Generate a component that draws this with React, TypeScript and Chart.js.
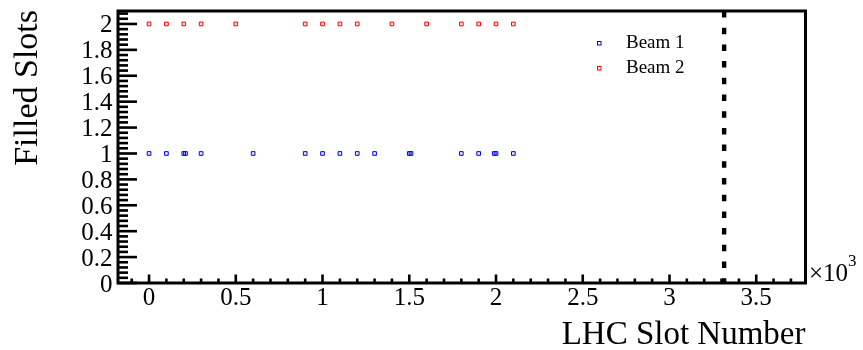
import { useEffect, useRef } from "react";
import { Chart, registerables } from "chart.js";

Chart.register(...registerables);

// Filled bunch slots per beam (slot number, filled flag level)
const beam1Slots = [0, 100, 200, 210, 300, 600, 900, 1000, 1100, 1200, 1300, 1500, 1510, 1800, 1900, 1990, 2000, 2100];
const beam1Filled = [1, 1, 1, 1, 1, 1, 1, 1, 1, 1, 1, 1, 1, 1, 1, 1, 1, 1];
const beam2Slots = [0, 100, 200, 300, 500, 900, 1000, 1100, 1200, 1400, 1600, 1800, 1900, 2000, 2100];
const beam2Filled = [2, 2, 2, 2, 2, 2, 2, 2, 2, 2, 2, 2, 2, 2, 2];

// Vertical dashed marker slot
const abortGapSlot = 3315;

// Axis ranges and ticks
const xMin = -179;
const xMax = 3784;
const yMin = 0;
const yMax = 2.1;
const xTicks = [0, 500, 1000, 1500, 2000, 2500, 3000, 3500];
const xTickLabels = ["0", "0.5", "1", "1.5", "2", "2.5", "3", "3.5"];
const yTicks = [0, 0.2, 0.4, 0.6, 0.8, 1, 1.2, 1.4, 1.6, 1.8, 2];
const yTickLabels = ["0", "0.2", "0.4", "0.6", "0.8", "1", "1.2", "1.4", "1.6", "1.8", "2"];
const xMinorTicks = [-100, 100, 200, 300, 400, 600, 700, 800, 900, 1100, 1200, 1300, 1400, 1600, 1700, 1800, 1900, 2100, 2200, 2300, 2400, 2600, 2700, 2800, 2900, 3100, 3200, 3300, 3400, 3600, 3700];
const yMinorTicks = [
  0.04, 0.08, 0.12, 0.16, 0.24, 0.28, 0.32, 0.36, 0.44, 0.48, 0.52, 0.56, 0.64, 0.68, 0.72, 0.76,
  0.84, 0.88, 0.92, 0.96, 1.04, 1.08, 1.12, 1.16, 1.24, 1.28, 1.32, 1.36, 1.44, 1.48, 1.52, 1.56,
  1.64, 1.68, 1.72, 1.76, 1.84, 1.88, 1.92, 1.96, 2.04, 2.08,
];

const legendLabels = ["Beam 1", "Beam 2"];
const seriesColors = ["#0000ff", "#ff0000"];

const SERIF = "'Liberation Serif', 'Times New Roman', serif";

const axisDecor = {
  id: "axisDecor",
  afterDatasetsDraw(chart: any) {
    const ctx: CanvasRenderingContext2D = chart.ctx;
    const area = chart.chartArea;
    const ys = chart.scales.y;
    const xs = chart.scales.x;
    ctx.save();
    ctx.fillStyle = "#000";
    // inward ticks on the left axis
    for (const v of yTicks) {
      ctx.fillRect(area.left, ys.getPixelForValue(v) - 1.3, 19, 2.6);
    }
    for (const v of yMinorTicks) {
      ctx.fillRect(area.left, ys.getPixelForValue(v) - 1.3, 10, 2.6);
    }
    // inward ticks on the bottom axis
    for (const v of xTicks) {
      ctx.fillRect(xs.getPixelForValue(v) - 1.3, area.bottom - 8.5, 2.6, 8.5);
    }
    for (const v of xMinorTicks) {
      ctx.fillRect(xs.getPixelForValue(v) - 1.3, area.bottom - 4.5, 2.6, 4.5);
    }
    ctx.restore();
  },
  afterDraw(chart: any) {
    const ctx: CanvasRenderingContext2D = chart.ctx;
    const a = chart.chartArea;
    const xs = chart.scales.x;
    const ys = chart.scales.y;
    ctx.save();

    // frame
    ctx.strokeStyle = "#000";
    ctx.lineWidth = 3;
    ctx.strokeRect(a.left, a.top, a.right - a.left, a.bottom - a.top);

    // dashed vertical marker
    const gx = xs.getPixelForValue(abortGapSlot);
    ctx.lineWidth = 4.4;
    ctx.setLineDash([6.5, 10.2]);
    ctx.beginPath();
    ctx.moveTo(gx, a.top);
    ctx.lineTo(gx, a.bottom);
    ctx.stroke();
    ctx.setLineDash([]);

    // tick labels
    ctx.fillStyle = "#000";
    ctx.font = `25px ${SERIF}`;
    ctx.textBaseline = "alphabetic";
    ctx.textAlign = "right";
    yTicks.forEach((v, i) => {
      ctx.fillText(yTickLabels[i], a.left - 5.5, ys.getPixelForValue(v) + 8.5);
    });
    ctx.textAlign = "center";
    xTicks.forEach((v, i) => {
      ctx.fillText(xTickLabels[i], xs.getPixelForValue(v), 305);
    });

    // legend
    const legendY = [43, 68];
    legendLabels.forEach((label, i) => {
      ctx.strokeStyle = seriesColors[i];
      ctx.lineWidth = 1;
      ctx.strokeRect(597.5, legendY[i] - 1.5, 3.5, 3.5);
      ctx.fillStyle = "#000";
      ctx.font = `19px ${SERIF}`;
      ctx.textAlign = "left";
      ctx.textBaseline = "alphabetic";
      ctx.fillText(label, 626, legendY[i] + 5);
    });

    // axis titles
    ctx.fillStyle = "#000";
    ctx.font = `33px ${SERIF}`;
    ctx.textAlign = "right";
    ctx.textBaseline = "alphabetic";
    ctx.fillText("LHC Slot Number", a.right, 344);

    ctx.save();
    ctx.translate(37, 10);
    ctx.rotate(-Math.PI / 2);
    ctx.textAlign = "right";
    ctx.font = `34px ${SERIF}`;
    ctx.fillText("Filled Slots", 0, 0);
    ctx.restore();

    // axis multiplier
    ctx.textAlign = "left";
    ctx.font = `25px ${SERIF}`;
    ctx.fillText("\u00d710", 809, 281);
    const w = ctx.measureText("\u00d710").width;
    ctx.font = `17px ${SERIF}`;
    ctx.fillText("3", 809 + w, 266);

    ctx.restore();
  },
};

export default function App() {
  const canvasRef = useRef<HTMLCanvasElement | null>(null);

  useEffect(() => {
    const canvas = canvasRef.current;
    if (!canvas) return;
    const chart = new Chart(canvas, {
      type: "scatter",
      data: {
        datasets: [
          {
            label: legendLabels[0],
            data: beam1Slots.map((s, i) => ({ x: s, y: beam1Filled[i] })),
            borderColor: seriesColors[0],
            pointStyle: "rect",
            pointRadius: 2.6,
            borderWidth: 1,
          },
          {
            label: legendLabels[1],
            data: beam2Slots.map((s, i) => ({ x: s, y: beam2Filled[i] })),
            borderColor: seriesColors[1],
            pointStyle: "rect",
            pointRadius: 2.6,
            borderWidth: 1,
          },
        ],
      },
      options: {
        animation: false,
        responsive: false,
        layout: { padding: { top: 11, right: 57.5, left: 118, bottom: 67 } },
        plugins: { legend: { display: false }, tooltip: { enabled: false } },
        scales: {
          x: { type: "linear", min: xMin, max: xMax, display: false },
          y: { type: "linear", min: yMin, max: yMax, display: false },
        },
      },
      plugins: [axisDecor],
    });
    return () => chart.destroy();
  }, []);

  return (
    <div style={{ position: "absolute", left: 0, top: 0 }}>
      <canvas ref={canvasRef} width={863} height={350} />
    </div>
  );
}
